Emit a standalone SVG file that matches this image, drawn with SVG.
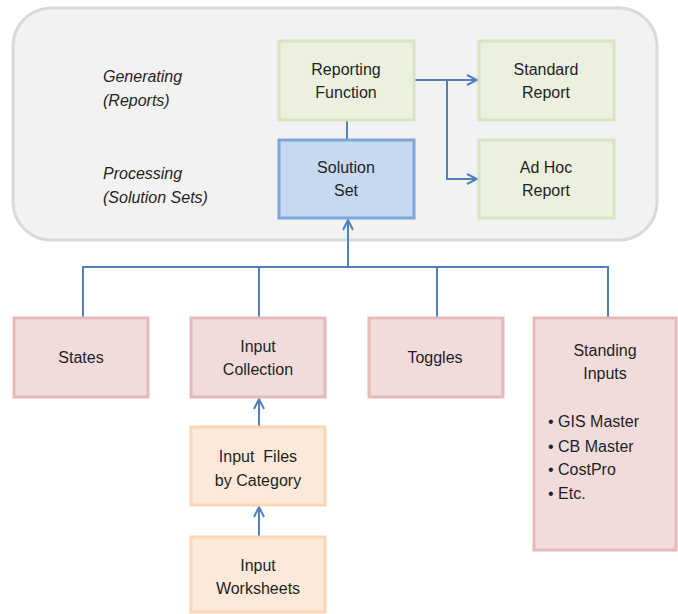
<svg xmlns="http://www.w3.org/2000/svg" width="678" height="614" viewBox="0 0 678 614">
<style>
text{font-family:"Liberation Sans","Noto Sans",sans-serif;font-size:16px;fill:#1f1f1f;text-anchor:middle}
.lbl{font-style:italic;text-anchor:start}
.bul{text-anchor:start}
.green{fill:#ebf1de;stroke:#d7e4bd;stroke-width:3}
.blue{fill:#c6d9f1;stroke:#7ea6d8;stroke-width:3}
.pink{fill:#f2dcdb;stroke:#e6b9b8;stroke-width:3}
.orange{fill:#fde9d9;stroke:#fcd5b5;stroke-width:3}
.con{fill:none;stroke:#4f81bd;stroke-width:2}
</style>
<defs>
<marker id="ah" markerWidth="12" markerHeight="12" viewBox="0 0 12 12" refX="11" refY="6" orient="auto" markerUnits="userSpaceOnUse">
<path d="M1,1 L11,6 L1,11" fill="none" stroke="#4f81bd" stroke-width="2"/>
</marker>
</defs>
<g id="container">
<rect x="13" y="8" width="644" height="232" rx="38" fill="#f2f2f2" stroke="#d9d9d9" stroke-width="3"/>
<text class="lbl" x="103" y="82">Generating</text>
<text class="lbl" x="103" y="106">(Reports)</text>
<text class="lbl" x="103" y="179">Processing</text>
<text class="lbl" x="103" y="203">(Solution Sets)</text>
</g>
<g id="connectors">
<line class="con" x1="347" y1="121" x2="347" y2="139"/>
<polyline class="con" points="414,80 447,80 447,179 477,179" marker-end="url(#ah)"/>
<line class="con" x1="447" y1="80" x2="477" y2="80" marker-end="url(#ah)"/>
<polyline class="con" points="83,317 83,267 608,267 608,317"/>
<line class="con" x1="259" y1="267" x2="259" y2="317"/>
<line class="con" x1="437" y1="267" x2="437" y2="317"/>
<line class="con" x1="348" y1="267" x2="348" y2="220" marker-end="url(#ah)"/>
<line class="con" x1="259" y1="427" x2="259" y2="399" marker-end="url(#ah)"/>
<line class="con" x1="259" y1="537" x2="259" y2="507" marker-end="url(#ah)"/>
</g>
<g id="reporting-function">
<rect class="green" x="279" y="41" width="135" height="79"/>
<text x="346" y="75">Reporting</text>
<text x="346" y="98">Function</text>
</g>
<g id="standard-report">
<rect class="green" x="479" y="41" width="135" height="79"/>
<text x="546" y="75">Standard</text>
<text x="546" y="98">Report</text>
</g>
<g id="solution-set">
<rect class="blue" x="279" y="140" width="135" height="78"/>
<text x="346" y="173">Solution</text>
<text x="346" y="196">Set</text>
</g>
<g id="ad-hoc-report">
<rect class="green" x="479" y="140" width="135" height="78"/>
<text x="546" y="173">Ad Hoc</text>
<text x="546" y="196">Report</text>
</g>
<g id="states">
<rect class="pink" x="14" y="318" width="134" height="79"/>
<text x="81" y="363">States</text>
</g>
<g id="input-collection">
<rect class="pink" x="191" y="318" width="134" height="79"/>
<text x="258" y="352">Input</text>
<text x="258" y="375">Collection</text>
</g>
<g id="toggles">
<rect class="pink" x="369" y="318" width="134" height="79"/>
<text x="435" y="363">Toggles</text>
</g>
<g id="standing-inputs">
<rect class="pink" x="534" y="318" width="142" height="232"/>
<text x="605" y="356">Standing</text>
<text x="605" y="379">Inputs</text>
<text class="bul" x="548" y="427">• GIS Master</text>
<text class="bul" x="548" y="452">• CB Master</text>
<text class="bul" x="548" y="475">• CostPro</text>
<text class="bul" x="548" y="499">• Etc.</text>
</g>
<g id="input-files">
<rect class="orange" x="191" y="427" width="134" height="78"/>
<text x="258" y="462">Input&#160; Files</text>
<text x="258" y="486">by Category</text>
</g>
<g id="input-worksheets">
<rect class="orange" x="191" y="537" width="134" height="75"/>
<text x="258" y="571">Input</text>
<text x="258" y="594">Worksheets</text>
</g>
</svg>
